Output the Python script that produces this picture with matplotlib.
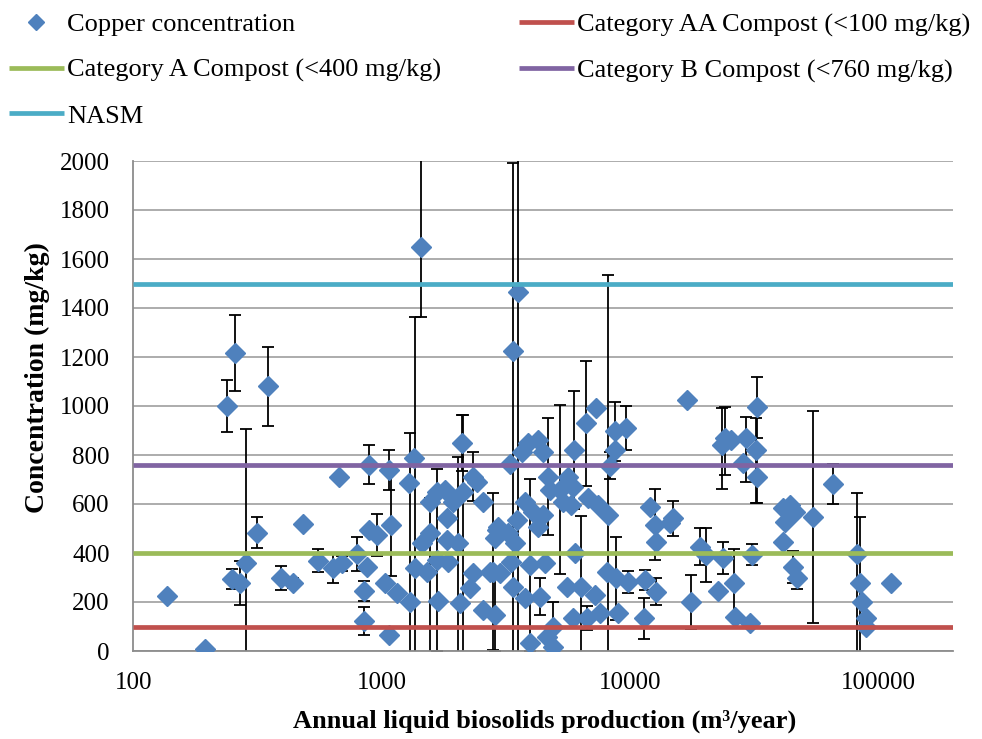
import matplotlib
matplotlib.use("Agg")
import matplotlib.pyplot as plt
import numpy as np
from matplotlib.lines import Line2D

plt.rcParams['font.family'] = ['Liberation Serif', 'DejaVu Serif']
plt.rcParams['font.size'] = 18

# ---------------- data ----------------
production = [137, 194, 239, 257, 349, 249, 269, 284, 314, 395, 438, 483, 555, 634, 690, 673,
              796, 891, 891, 953, 875, 851, 851, 1072, 1086, 1033, 1072, 1148, 1299, 1352, 1291,
              1435, 1361, 1448, 2097, 1663, 1795, 1563, 1940, 2128, 2334, 2409, 2560, 1824, 1563,
              1824, 2032, 1663, 1853, 1517, 2334, 2811, 1687, 2064, 2265, 2547, 2856, 2899,
              7280, 6640, 5960, 9670, 8670, 8670, 8280, 4270, 3890, 4470, 3660, 3280, 4680, 4750,
              5210, 5630, 5900, 5370, 5800, 6770, 7430, 8150, 3770, 4070, 4470, 4270, 3490, 2940,
              2860, 3230, 3440, 5990, 2725, 2990, 3330, 3950, 4540, 3380, 3770, 4330, 5550, 6370,
              7210, 8035, 8810, 5900, 6680, 7555, 8950, 3950, 4610, 4900, 4900, 3530, 3380,
              16900, 32430, 24050, 23330, 25590, 29390, 32260, 28510, 32430, 65580, 11990, 12570,
              12760, 14890, 14450, 19080, 20170, 23680, 30810, 26120, 22600, 26360, 30330, 17660,
              9820, 11460, 12680, 11350, 41300, 43950, 46030, 41940, 41300, 45290, 46770, 54460,
              81950, 84530, 86100, 89330, 88780, 112700]

copper = [225, 7, 1000, 1218, 1080, 293, 276, 361, 483, 297, 279, 519, 369, 338, 358, 709,
          396, 760, 494, 474, 344, 246, 124, 739, 515, 279, 65, 236, 201, 787, 685,
          1650, 338, 442, 848, 651, 658, 610, 610, 651, 712, 691, 610, 542, 481,
          453, 442, 372, 365, 324, 320, 324, 205, 197, 256, 167, 147, 494,
          991, 930, 821, 910, 896, 821, 756, 862, 848, 814, 814, 764, 712, 658,
          658, 712, 671, 610, 596, 624, 596, 555, 610, 569, 555, 508, 535, 508,
          460, 481, 440, 399, 324, 318, 365, 351, 358, 263, 215, 222, 263, 263,
          229, 324, 297, 134, 134, 154, 154, 31, 58, 18, 99, 1465, 1226,
          1025, 995, 869, 841, 862, 869, 821, 767, 709, 682, 589, 515,
          446, 542, 522, 426, 392, 379, 392, 276, 246, 140, 116, 201,
          283, 290, 242, 134, 583, 596, 569, 528, 446, 344, 297, 546,
          396, 276, 201, 134, 99, 276]

err_minus = [0, 0, 108, 155, 160, 40, 90, 545, 63, 50, 20, 0, 48, 60, 30, 0,
             70, 80, 0, 85, 0, 40, 57, 80, 210, 0, 0, 0, 690, 0, 0,
             285, 1025, 0, 115, 0, 0, 0, 0, 700, 100, 0, 0, 0, 520,
             0, 480, 370, 0, 0, 0, 320, 0, 0, 0, 0, 145, 0,
             0, 255, 240, 90, 120, 0, 55, 0, 0, 0, 0, 0, 240, 0,
             345, 0, 0, 0, 0, 0, 0, 980, 0, 0, 0, 0, 0, 0,
             0, 0, 0, 0, 0, 0, 0, 350, 0, 0, 0, 75, 0, 290,
             0, 0, 170, 0, 48, 0, 0, 0, 0, 0, 100, 1500, 1260,
             0, 125, 150, 180, 0, 180, 215, 0, 105, 80, 0, 145,
             0, 72, 0, 76, 110, 66, 43, 140, 0, 0, 0, 110,
             45, 40, 55, 84, 0, 0, 0, 0, 0, 66, 45, 433,
             420, 300, 0, 0, 0, 0]

err_plus = [0, 0, 108, 155, 160, 40, 90, 545, 63, 50, 20, 0, 48, 60, 30, 0,
            70, 80, 0, 85, 0, 40, 57, 80, 210, 0, 0, 0, 690, 0, 0,
            400, 1025, 0, 115, 0, 0, 0, 0, 313, 100, 0, 0, 0, 143,
            0, 351, 370, 0, 0, 0, 320, 0, 0, 0, 0, 145, 0,
            0, 255, 240, 90, 120, 0, 55, 0, 0, 0, 0, 0, 240, 0,
            345, 0, 0, 0, 0, 0, 0, 980, 0, 0, 0, 0, 0, 0,
            0, 0, 0, 0, 0, 0, 0, 350, 0, 0, 0, 75, 0, 290,
            0, 0, 170, 0, 48, 0, 0, 0, 0, 0, 100, 600, 764,
            0, 125, 125, 150, 0, 85, 130, 0, 105, 80, 0, 145,
            0, 72, 0, 76, 110, 66, 43, 140, 0, 0, 0, 110,
            45, 40, 55, 84, 0, 0, 0, 0, 0, 66, 45, 433,
            250, 272, 0, 0, 0, 0]

limit_names = ['Category AA Compost (<100 mg/kg)', 'Category A Compost (<400 mg/kg)',
               'Category B Compost (<760 mg/kg)', 'NASM']
limit_values = [100, 400, 760, 1500]
limit_colors = ['#C0504D', '#9BBB59', '#8064A2', '#4BACC6']

x_ticks = [100, 1000, 10000, 100000]
x_tick_labels = ['100', '1000', '10000', '100000']
y_ticks = list(range(0, 2001, 200))

# ---------------- figure ----------------
W, H = 982, 739
fig = plt.figure(figsize=(W / 100, H / 100), dpi=100)
ax = fig.add_axes([133.3 / W, 1 - 651 / H, 820 / W, 490 / H])

x = np.array(production, float)
y = np.array(copper, float)
lo = np.array(err_minus, float)
hi = np.array(err_plus, float)
m = (lo > 0) | (hi > 0)

ax.errorbar(x[m], y[m], yerr=[lo[m], hi[m]], fmt='none', ecolor='black',
            elinewidth=1.3, capsize=4.3, capthick=1.3, zorder=2)
ax.plot(x, y, 'D', ls='none', color='#4F81BD', mec='#4F81BD', ms=10, zorder=3)

for v, c in zip(limit_values, limit_colors):
    ax.axhline(v, color=c, lw=3.4, zorder=4, solid_capstyle='butt')

ax.set_xscale('log')
ax.set_xlim(100, 200000)
ax.set_ylim(0, 2000)
ax.set_xticks(x_ticks)
ax.set_xticklabels(x_tick_labels)
ax.xaxis.set_minor_locator(matplotlib.ticker.NullLocator())
ax.set_yticks(y_ticks)
ax.set_yticklabels([str(t) for t in y_ticks])
ax.yaxis.grid(True, color='#A6A6A6', lw=1.3)
ax.set_axisbelow(True)
ax.tick_params(axis='y', length=0, pad=17, labelsize=18)
ax.tick_params(axis='x', length=0, pad=15, labelsize=18)
for s in ['top', 'right']:
    ax.spines[s].set_visible(False)
for s in ['left', 'bottom']:
    ax.spines[s].set_color('#8C8C8C')
    ax.spines[s].set_linewidth(1.3)

fig.text(545 / W, 1 - 721 / H, 'Annual liquid biosolids production (m³/year)',
         ha='center', va='center', fontweight='bold', fontsize=19)
fig.text(37 / W, 1 - 378 / H, 'Concentration (mg/kg)', rotation=90,
         ha='center', va='center', fontweight='bold', fontsize=20)

# ---------------- legend ----------------
h_cu = Line2D([], [], marker='D', ls='none', color='#4F81BD', ms=8)
h_lines = [Line2D([], [], color=c, lw=3.4, solid_capstyle='butt') for c in limit_colors]

common = dict(frameon=False, borderpad=0, borderaxespad=0, handlelength=2.08,
              handletextpad=0.13, labelspacing=0.83, fontsize=19)
fig.legend([h_cu, h_lines[1], h_lines[3]],
           ['Copper concentration', limit_names[1], limit_names[3]],
           loc='upper left', bbox_to_anchor=(9 / W, 1 - 13 / H), **common)
fig.legend([h_lines[0], h_lines[2]], [limit_names[0], limit_names[2]],
           loc='upper left', bbox_to_anchor=(519 / W, 1 - 13 / H), **common)

fig.savefig('out.png', dpi=100)
